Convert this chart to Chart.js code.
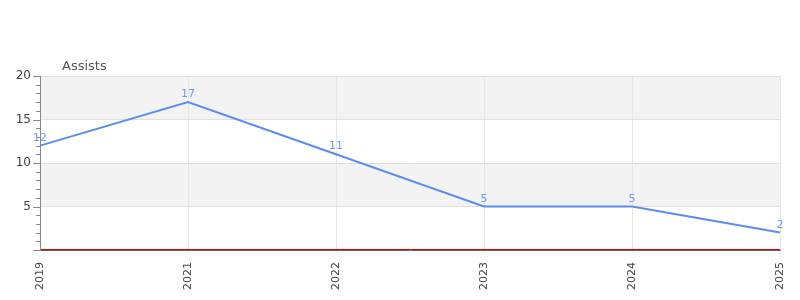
<!DOCTYPE html>
<html>
<head>
<meta charset="utf-8">
<script src="https://cdn.jsdelivr.net/npm/chart.js@4"></script>
<style>
  html, body { margin: 0; padding: 0; background: #fff; }
  #wrap { width: 800px; height: 300px; }
</style>
</head>
<body>
<div id="wrap"><canvas id="chart"></canvas></div>
<script>
const seasons = ['2019', '2021', '2022', '2023', '2024', '2025'];
const assists = [12, 17, 11, 5, 5, 2];
const chartTitle = 'Assists';
const yMin = 0;
const yMax = 20;

// bands, minor ticks, zero line, point labels and the small title
const decorPlugin = {
    id: 'decor',
    beforeDraw(chart) {
        const { ctx, chartArea } = chart;
        const y = chart.scales.y;
        ctx.save();
        ctx.fillStyle = '#f3f3f3';
        [[15, 20], [5, 10]].forEach(([a, b]) => {
            const top = y.getPixelForValue(b);
            const bottom = y.getPixelForValue(a);
            ctx.fillRect(chartArea.left, top, chartArea.right - chartArea.left, bottom - top);
        });
        ctx.restore();
    },
    afterDraw(chart) {
        const { ctx, chartArea } = chart;
        const y = chart.scales.y;
        ctx.save();

        // y ticks
        ctx.strokeStyle = '#888';
        ctx.lineWidth = 1;
        y.ticks.forEach(t => {
            const py = Math.round(y.getPixelForValue(t.value)) + 0.5;
            const len = t.value % 5 === 0 ? 7 : 4;
            ctx.beginPath();
            ctx.moveTo(chartArea.left - len, py);
            ctx.lineTo(chartArea.left, py);
            ctx.stroke();
        });

        // red zero line, just above the axis line
        const zy = Math.floor(y.getPixelForValue(0)) - 0.5;
        ctx.strokeStyle = '#dd0000';
        ctx.lineWidth = 1;
        ctx.beginPath();
        ctx.moveTo(chartArea.left + 1, zy);
        ctx.lineTo(chartArea.right, zy);
        ctx.stroke();

        // point labels
        const meta = chart.getDatasetMeta(0);
        ctx.fillStyle = '#6f9be8';
        ctx.font = '11px "DejaVu Sans", sans-serif';
        ctx.textAlign = 'center';
        ctx.textBaseline = 'alphabetic';
        meta.data.forEach((pt, i) => {
            ctx.fillText(String(assists[i]), pt.x, pt.y - 5);
        });

        // title
        ctx.fillStyle = '#555';
        ctx.font = '13px "DejaVu Sans", sans-serif';
        ctx.textAlign = 'left';
        ctx.fillText(chartTitle, chartArea.left + 22, chartArea.top - 6);
        ctx.restore();
    }
};

const ctx = document.getElementById('chart').getContext('2d');
new Chart(ctx, {
    type: 'line',
    data: {
        labels: seasons,
        datasets: [{
            label: chartTitle,
            data: assists,
            borderColor: '#5b8def',
            borderWidth: 2,
            pointRadius: 0,
            tension: 0,
            fill: false
        }]
    },
    options: {
        responsive: true,
        maintainAspectRatio: false,
        animation: false,
        layout: { padding: { top: 76, right: 20, left: 0, bottom: 0 } },
        plugins: {
            legend: { display: false },
            tooltip: { enabled: false },
            title: { display: false }
        },
        scales: {
            x: {
                offset: false,
                afterFit(scale) {
                    scale.height = 50;
                    scale.paddingLeft = 0;
                    scale.paddingRight = 0;
                },
                grid: { color: '#e6e6e6', drawTicks: false },
                border: { color: '#666', width: 1 },
                ticks: {
                    color: '#444',
                    font: { family: 'DejaVu Sans', size: 11 },
                    minRotation: 90,
                    maxRotation: 90,
                    padding: 12,
                    autoSkip: false
                }
            },
            y: {
                min: yMin,
                max: yMax,
                afterFit(scale) { scale.width = 40; },
                grid: {
                    drawTicks: false,
                    color: c => (c.tick && c.tick.value % 5 === 0 && c.tick.value !== 0) ? '#e0e0e0' : 'rgba(0,0,0,0)'
                },
                border: { color: '#888', width: 1 },
                ticks: {
                    stepSize: 1,
                    autoSkip: false,
                    color: '#444',
                    padding: 9,
                    font: { family: 'DejaVu Sans', size: 12 },
                    callback: v => (v % 5 === 0 && v !== 0) ? v : ''
                }
            }
        }
    },
    plugins: [decorPlugin]
});
</script>
</body>
</html>
